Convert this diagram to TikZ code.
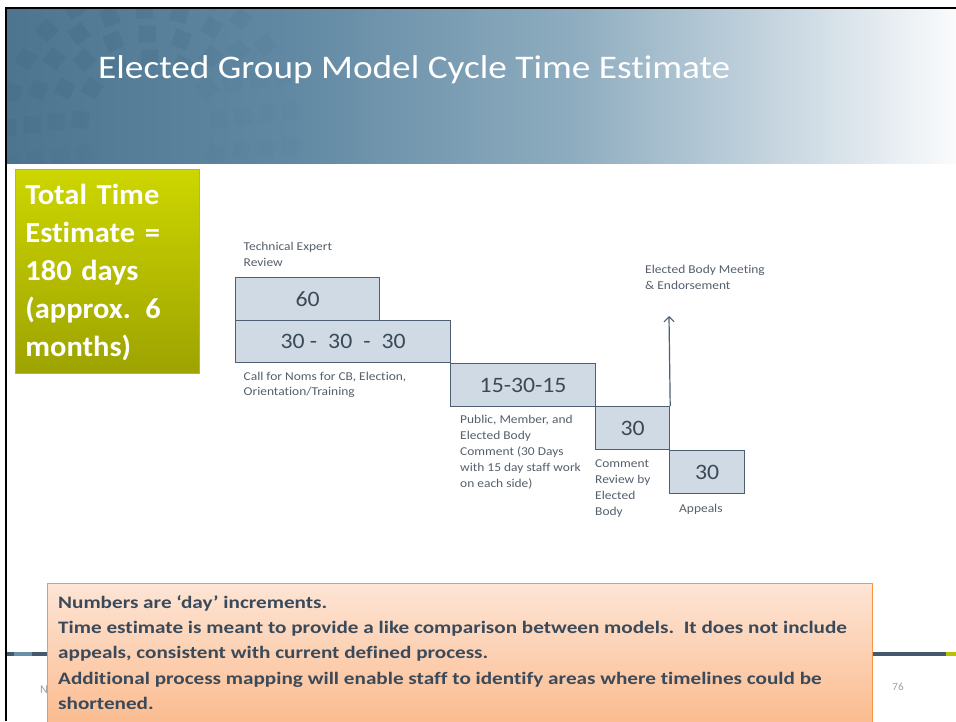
\documentclass[tikz,border=0pt]{standalone}
\usepackage{fontspec}
\setmainfont[Ligatures=NoCommon]{Carlito}
\newfontfamily\titlefont[FakeStretch=1.13,Ligatures=NoCommon]{Carlito}
\newfontfamily\notefont[FakeStretch=1.21,Ligatures=NoCommon]{Carlito}
\newfontfamily\greenfont[FakeStretch=1.05,Ligatures=NoCommon]{Carlito}
\newfontfamily\lblfont[FakeStretch=1.12,Ligatures=NoCommon]{Carlito}
\newfontfamily\numfont[FakeStretch=1.08,Ligatures=NoCommon]{Carlito}
\usetikzlibrary{arrows.meta}
\definecolor{hA}{HTML}{4D7590}
\definecolor{hB}{HTML}{6189A3}
\definecolor{hC}{HTML}{8FADC0}
\definecolor{hD}{HTML}{C3D3DE}
\definecolor{hE}{HTML}{FAFBFC}
\definecolor{tileDark}{HTML}{3A617C}
\definecolor{gTop}{HTML}{CDD600}
\definecolor{gBot}{HTML}{9DA300}
\definecolor{gEdge}{HTML}{B8C000}
\definecolor{oTop}{HTML}{FDE5D6}
\definecolor{oBot}{HTML}{FBB787}
\definecolor{oEdge}{HTML}{F79646}
\definecolor{oText}{HTML}{3B4A5A}
\definecolor{boxFill}{HTML}{CFDAE4}
\definecolor{boxEdge}{HTML}{4D5F70}
\definecolor{numText}{HTML}{3B4856}
\definecolor{lblText}{HTML}{55606C}
\definecolor{footBar}{HTML}{44596C}
\definecolor{footLight}{HTML}{6A90A8}
\definecolor{footGreen}{HTML}{B5C200}
\pgfdeclarehorizontalshading{hdr}{100bp}{color(0bp)=(hA); color(25bp)=(hA); color(40bp)=(hB); color(55bp)=(hC); color(65bp)=(hD); color(75bp)=(hE); color(100bp)=(hE)}
\begin{document}
\begin{tikzpicture}[x=1pt,y=-1pt,
  stepbox/.style={draw=boxEdge, line width=1.2pt, fill=boxFill, anchor=north west,
    inner sep=0pt, text=numText, font=\numfont\fontsize{22}{26}\selectfont},
  lbl/.style={anchor=north west, inner sep=0pt, align=left, text=lblText,
    font=\lblfont\fontsize{12}{16}\selectfont}]
\useasboundingbox (0,0) rectangle (956,721);
\fill[white] (0,0) rectangle (956,721);
% header
\shade[shading=hdr] (7,9) rectangle (956,163);
\begin{scope}
  \clip (7,9) rectangle (956,163);
  \foreach \r/\n in {70/13, 94/17, 118/21, 142/25}{
    \foreach \i in {1,...,\n}{
      \pgfmathsetmacro{\ang}{360/\n*\i+7}
      \pgfmathsetmacro{\op}{0.03+0.18*max(0,cos(\ang-115))}
      \fill[tileDark, opacity=\op, shift={(150,128)}, rotate=\ang] (\r-8.5,-8.5) rectangle (\r+8.5,8.5);
    }
  }
\end{scope}
\node[anchor=west, inner sep=0pt, text=white, font=\titlefont\fontsize{33}{40}\selectfont] (title) at (98,70) {Elected Group Model Cycle Time Estimate};
% border
\draw[black, line width=2.5pt] (6,721) -- (6,8) -- (956,8);
% green box
\node[anchor=north west, minimum width=184pt, minimum height=204pt, inner xsep=10pt, inner ysep=0pt,
  top color=gTop, bottom color=gBot, draw=gEdge, line width=0.8pt,
  text width=164pt, align=left, text=white, font=\greenfont\bfseries\fontsize{29}{38}\selectfont] (total) at (15,169)
  {\vphantom{Xy}\\[-34pt]Total Time\\Estimate =\\180 days\\(approx. 6\\months)};
% process boxes
\node[stepbox, minimum width=144pt, minimum height=43pt] (b60) at (235,277) {60};
\node[stepbox, minimum width=215pt, minimum height=42pt] (b90) at (235,320) {30 -\hspace{0.5em}30\hspace{0.5em}-\hspace{0.5em}30};
\node[stepbox, minimum width=145pt, minimum height=43pt] (b153) at (450,363) {15-30-15};
\node[stepbox, minimum width=74pt, minimum height=43pt] (b30a) at (595,406) {30};
\node[stepbox, minimum width=75pt, minimum height=43pt] (b30b) at (669,450) {30};
\coordinate (tip) at (669,316);
\draw[boxEdge, line width=1.2pt, -{Straight Barb[length=5pt, width=10pt, line width=1.1pt]}] (b30a.north east) -- (tip);
% labels
\node[lbl] (lTech) at (243.5,242) {Technical Expert\\Review};
\node[lbl, font=\lblfont\fontsize{12}{15}\selectfont] (lCall) at (243.5,372) {Call for Noms for CB, Election,\\Orientation/Training};
\node[lbl] (lPub) at (460,415) {Public, Member, and\\Elected Body\\Comment (30 Days\\with 15 day staff work\\on each side)};
\node[lbl] (lCom) at (595,460) {Comment\\Review by\\Elected\\Body};
\node[lbl] (lApp) at (679,504) {Appeals};
\node[lbl] (lMeet) at (645,265) {Elected Body Meeting\\\& Endorsement};
% footer
\fill[footBar] (7,652) rectangle (956,656);
\fill[footLight] (14,652) rectangle (32,656);
\fill[footGreen] (946,652) rectangle (956,656);
\node[anchor=west, inner sep=0pt, text=lblText!60, font=\fontsize{12}{14}\selectfont] (fN) at (40,690) {N};
\node[anchor=center, inner sep=0pt, text=lblText!60, font=\fontsize{11}{13}\selectfont] (fPage) at (898,687) {76};
% orange box
\shade[top color=oTop, bottom color=oBot, draw=oEdge, line width=1pt] (47,583) rectangle (872,740);
\node[anchor=north west, inner sep=0pt, align=left, text=oText, font=\notefont\bfseries\fontsize{17.5}{25.3}\selectfont] (note) at (58,595)
  {Numbers are ‘day’ increments.\\
   Time estimate is meant to provide a like comparison between models.\ \ It does not include\\
   appeals, consistent with current defined process.\\
   Additional process mapping will enable staff to identify areas where timelines could be\\
   shortened.};
\end{tikzpicture}
\end{document}
